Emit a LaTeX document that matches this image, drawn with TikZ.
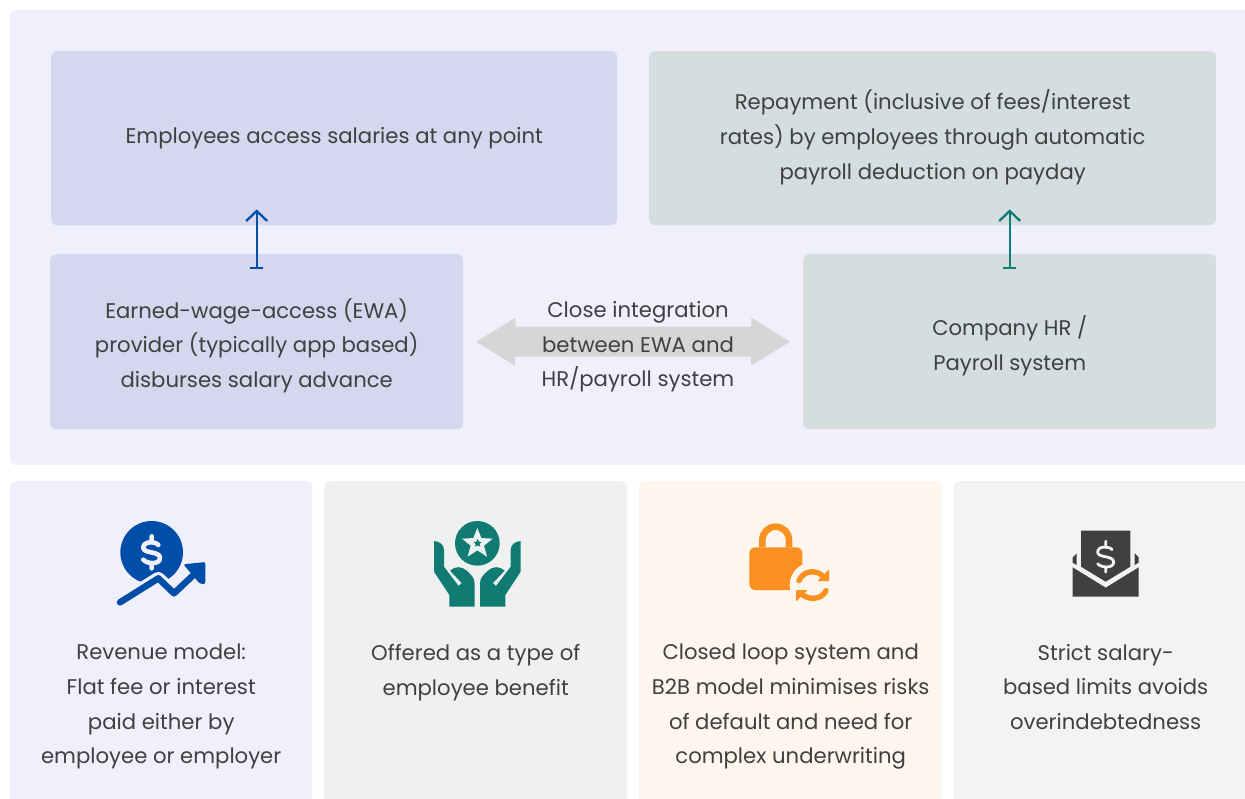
\documentclass[tikz,border=0pt]{standalone}
\usepackage{fontspec}
\setmainfont{Poppins}
\usetikzlibrary{arrows.meta}
\definecolor{panelbg}{HTML}{EFF0FB}
\definecolor{boxblue}{HTML}{D4D7ED}
\definecolor{boxgreen}{HTML}{D4DEDF}
\definecolor{cardA}{HTML}{EFF0FB}
\definecolor{cardB}{HTML}{EFF1F1}
\definecolor{cardC}{HTML}{FEF5EC}
\definecolor{cardD}{HTML}{F2F4F4}
\definecolor{ink}{HTML}{404041}
\definecolor{iconblue}{HTML}{004EA8}
\definecolor{iconteal}{HTML}{0F7B73}
\definecolor{iconorange}{HTML}{F99020}
\definecolor{band}{HTML}{D5D6D6}
\tikzset{
  x=1pt,y=-1pt,
  panelbox/.style={fill=#1,draw=none,rounded corners=6pt,inner sep=0pt,anchor=north west},
  words/.style={text=ink,align=center,font=\fontsize{21.2}{34.6}\selectfont,inner sep=0pt},
  feature/.style={words,anchor=north,color=ink},
  flowup/.style={line width=2.3pt,{Bar[width=13pt,length=0pt]}-{Straight Barb[length=10pt,width=21pt,line width=2.3pt]}},
  dollarstroke/.pic={
    \draw[line cap=round,line join=round,pic actions]
      (20,-22) .. controls (12,-33) and (-25,-35) .. (-25,-14)
      .. controls (-25,5) and (25,-5) .. (25,17)
      .. controls (25,38) and (-15,35) .. (-25,22)
      (0,-48) -- (0,-34) (0,34) -- (0,48);
  }
}
\begin{document}
\begin{tikzpicture}
\useasboundingbox (0,0) rectangle (1245,798);
\clip (0,0) rectangle (1245,798);
\fill[white] (0,0) rectangle (1245,798);
% panel
\node[panelbox=panelbg,minimum width=1250pt,minimum height=455pt] (panel) at (10,10) {};
% boxes
\node[panelbox=boxblue,minimum width=566pt,minimum height=174pt] (emp) at (51,51) {};
\node[panelbox=boxgreen,minimum width=567pt,minimum height=174pt] (repay) at (649,51) {};
\node[panelbox=boxblue,minimum width=413pt,minimum height=175pt] (ewa) at (50,254) {};
\node[panelbox=boxgreen,minimum width=413pt,minimum height=175pt] (hr) at (803,254) {};
% double arrow
\coordinate (bandL) at ([xshift=13pt]ewa.east);
\coordinate (bandR) at ([xshift=-13pt]hr.west);
\fill[band] (bandL) -- ++(39,-24) -- ++(0,9) -- ++(236,0) -- ++(0,-9) -- (bandR)
  -- ++(-39,24) -- ++(0,-9) -- ++(-236,0) -- ++(0,9) -- cycle;
% box texts
\node[words] (emptext) at (emp.center) {Employees access salaries at any point};
\node[words] (repaytext) at ([yshift=1pt]repay.center) {Repayment (inclusive of fees/interest\\rates) by employees through automatic\\payroll deduction on payday};
\node[words] (ewatext) at ([yshift=-4pt]ewa.center) {Earned-wage-access (EWA)\\provider (typically app based)\\disburses salary advance};
\node[words] (hrtext) at ([yshift=-4pt]hr.center) {Company HR /\\Payroll system};
\node[words] (midtext) at (638,347) {Close integration\\between EWA and\\HR/payroll system};
% arrows
\draw[flowup,iconblue] ([yshift=-15pt]ewa.north) -- ([yshift=16pt]ewa.north |- emp.south);
\draw[flowup,iconteal] ([yshift=-15pt]hr.north) -- ([yshift=16pt]hr.north |- repay.south);
% cards
\node[panelbox=cardA,minimum width=302pt,minimum height=340pt] (c1) at (10,481) {};
\node[panelbox=cardB,minimum width=303pt,minimum height=340pt] (c2) at (324,481) {};
\node[panelbox=cardC,minimum width=303pt,minimum height=340pt] (c3) at (639,481) {};
\node[panelbox=cardD,minimum width=303pt,minimum height=340pt] (c4) at (954,481) {};
\node[feature] (c1text) at ([yshift=-163pt]c1.north) {Revenue model:\\Flat fee or interest\\paid either by\\employee or employer};
\node[feature] (c2text) at ([yshift=-163pt]c2.north) {Offered as a type of\\employee benefit};
\node[feature] (c3text) at ([yshift=-163pt]c3.north) {Closed loop system and\\B2B model minimises risks\\of default and need for\\complex underwriting};
\node[feature] (c4text) at ([yshift=-163pt]c4.north) {Strict salary-\\based limits avoids\\overindebtedness};
% icon 1
\begin{scope}[shift={(90,500)},scale=1/3]
  \fill[iconblue] (185,157) circle (94);
  \pic[draw=cardA,line width=4.6pt,scale=1/3] at (185,157) {dollarstroke};
  \draw[cardA,line width=13pt,line join=round] (90,307) -- (205,235) -- (252,280) -- (318,218);
  \draw[iconblue,line width=6.5pt,line cap=round,line join=round] (90,307) -- (205,235) -- (252,280) -- (322,214);
  \fill[iconblue,rounded corners=2pt] (280,193) -- (346,186) -- (346,252) -- (330,252) -- cycle;
\end{scope}
% icon 2
\begin{scope}[shift={(410,500)},scale=1/3]
  \fill[iconteal] (202,130) circle (67);
  \fill[cardB] (202,84) -- (214,114) -- (248,116) -- (222,137) -- (231,170) -- (202,151) -- (173,170) -- (182,137) -- (156,116) -- (190,114) -- cycle;
  \fill[iconteal] (203,117) -- (207,125) -- (215,126) -- (209,132) -- (211,140) -- (203,136) -- (195,140) -- (197,132) -- (191,126) -- (199,125) -- cycle;
  \fill[iconteal] (72,123) .. controls (90,124) and (102,135) .. (102,150) -- (102,200) -- (146,258) -- (155,249) -- (120,212) .. controls (135,198) and (155,198) .. (170,212) .. controls (185,225) and (194,235) .. (194,250) -- (194,320) -- (118,320) -- (118,285) -- (72,215) -- cycle;
  \fill[iconteal] (332,123) .. controls (314,124) and (302,135) .. (302,150) -- (302,200) -- (258,258) -- (249,249) -- (284,212) .. controls (269,198) and (249,198) .. (234,212) .. controls (219,225) and (210,235) .. (210,250) -- (210,320) -- (286,320) -- (286,285) -- (332,215) -- cycle;
\end{scope}
% icon 3
\begin{scope}[shift={(730,510)},scale=1/3]
  \draw[iconorange,line width=6.6pt] (97,112) -- (97,90) arc (180:360:40) -- (177,112);
  \fill[iconorange,rounded corners=6pt] (58,112) rectangle (217,240);
  \fill[cardC] (247,225) circle (68);
  \draw[iconorange,line width=5.4pt,line cap=round] (207,212) .. controls (220,180) and (262,178) .. (280,200);
  \fill[iconorange,rounded corners=1pt] (297,178) -- (297,213) -- (262,213) -- cycle;
  \draw[iconorange,line width=5.4pt,line cap=round] (288,242) .. controls (275,270) and (232,272) .. (214,250);
  \fill[iconorange,rounded corners=1pt] (198,275) -- (198,240) -- (233,240) -- cycle;
\end{scope}
% icon 4
\begin{scope}[shift={(1050,510)},scale=1/3]
  \fill[ink] (93,62) -- (241,62) -- (241,170) -- (167,215) -- (93,170) -- cycle;
  \fill[ink] (68,172) -- (167,233) -- (266,172) -- (266,260) -- (68,260) -- cycle;
  \fill[ink] (80,130) -- (68,142) -- (68,158) -- (80,165) -- cycle;
  \fill[ink] (254,130) -- (266,142) -- (266,158) -- (254,165) -- cycle;
  \pic[draw=cardD,line width=2.8pt,scale=0.32] at (167,140) {dollarstroke};
\end{scope}
\end{tikzpicture}
\end{document}
